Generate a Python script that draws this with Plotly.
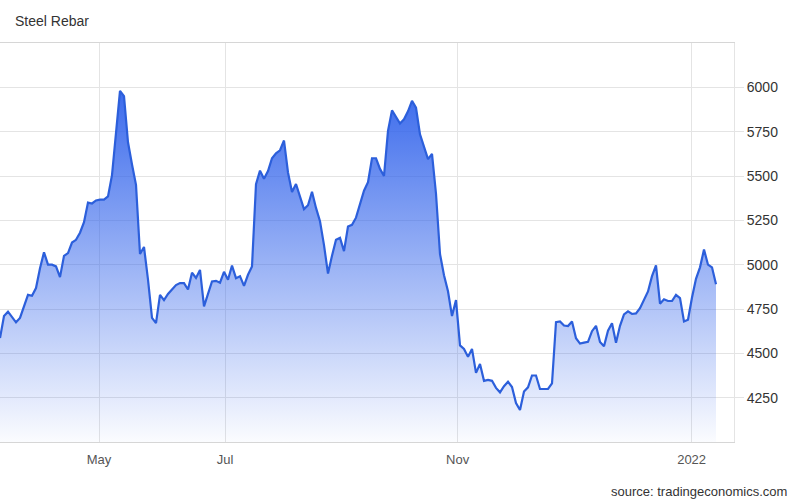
import plotly.graph_objects as go

# Steel rebar price (CNY/T), one value per trading session
prices = [
    4586, 4710, 4735, 4707, 4675, 4700, 4760, 4830, 4825, 4868,
    4980, 5070, 5000, 5000, 4990, 4930, 5050, 5065, 5125, 5140,
    5180, 5240, 5350, 5345, 5362, 5367, 5367, 5385, 5505, 5760,
    5980, 5950, 5690, 5565, 5450, 5060, 5100, 4915, 4700, 4670,
    4830, 4800, 4835, 4860, 4885, 4896, 4896, 4860, 4955, 4925,
    4970, 4765, 4835, 4905, 4909, 4898, 4960, 4915, 4995, 4924,
    4935, 4880, 4943, 4990, 5454, 5530, 5485, 5528, 5600, 5628,
    5645, 5700, 5520, 5410, 5455, 5388, 5313, 5335, 5411, 5320,
    5245, 5110, 4950, 5050, 5140, 5151, 5076, 5215, 5225, 5265,
    5335, 5417, 5465, 5600, 5600, 5540, 5500, 5755, 5870, 5830,
    5796, 5820, 5865, 5924, 5885, 5735, 5665, 5595, 5625, 5400,
    5060, 4940, 4850, 4710, 4800, 4545, 4525, 4480, 4525, 4390,
    4440, 4345, 4350, 4345, 4305, 4280, 4315, 4340, 4310, 4220,
    4180, 4285, 4308, 4375, 4375, 4299, 4299, 4299, 4330, 4676,
    4680, 4657, 4654, 4680, 4585, 4555, 4560, 4565, 4625, 4655,
    4564, 4540, 4628, 4670, 4560, 4655, 4720, 4737, 4722, 4725,
    4755, 4800, 4849, 4935, 4996, 4780, 4805, 4795, 4795, 4830,
    4811, 4680, 4690, 4815, 4920, 4985, 5085, 5000, 4985, 4890,
]
sessions = list(range(len(prices)))

# x-axis month labels and the session position where each falls
tick_labels = ["May", "Jul", "Nov", "2022"]
tick_sessions = [24.75, 56.25, 114.4, 172.9]

y_ticks = [4250, 4500, 4750, 5000, 5250, 5500, 5750, 6000]

LINE = "#2c5fdb"
GRID = "#e4e4e4"
FONT = "Liberation Sans, Arial, sans-serif"

fig = go.Figure()
fig.add_trace(go.Scatter(
    x=sessions, y=prices, mode="lines",
    line=dict(color=LINE, width=2.2),
    fill="tozeroy",
    fillgradient=dict(
        type="vertical", start=4000, stop=6000,
        colorscale=[[0, "rgba(48,98,235,0.02)"], [1, "rgba(48,98,235,0.95)"]],
    ),
    hoverinfo="skip", showlegend=False,
))

fig.update_layout(
    width=800, height=502,
    margin=dict(l=0, r=66, t=43, b=60),
    paper_bgcolor="white", plot_bgcolor="white",
    font=dict(family=FONT, color="#333"),
    title=dict(text="Steel Rebar", x=15 / 800, xref="container", xanchor="left",
               y=1 - 21 / 502, yref="container", yanchor="middle",
               font=dict(size=14, color="#333", family=FONT)),
    xaxis=dict(
        range=[0, 183.5], tickmode="array", tickvals=tick_sessions, ticktext=tick_labels,
        showgrid=True, gridcolor=GRID, gridwidth=1, zeroline=False,
        showline=True, linecolor="#d6d6d6", linewidth=1, mirror=True,
        ticks="outside", ticklen=5, tickcolor="rgba(0,0,0,0)",
        tickfont=dict(size=13, color="#555"),
    ),
    yaxis=dict(
        side="right", range=[4000, 6250], tickmode="array", tickvals=y_ticks,
        showgrid=True, gridcolor=GRID, gridwidth=1, zeroline=False,
        showline=True, linecolor=GRID, linewidth=1,
        ticks="outside", ticklen=9, tickcolor=GRID,
        tickfont=dict(size=14, color="#333"),
    ),
    annotations=[dict(
        text="source: tradingeconomics.com", xref="paper", yref="paper",
        x=789 / 734, y=(442 - 492) / 399, xanchor="right", yanchor="middle",
        showarrow=False, font=dict(size=13, color="#333", family=FONT),
    )],
)

fig.write_html("out.html", config={"displayModeBar": False},
               post_script="document.body.style.margin='0px';")
